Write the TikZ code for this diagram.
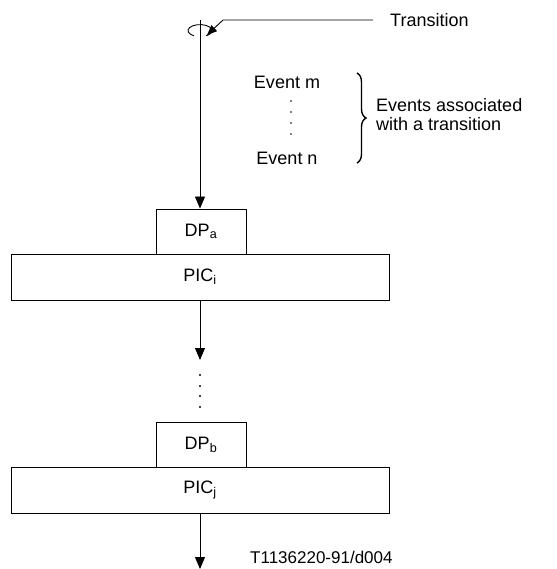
\documentclass[tikz,border=0pt]{standalone}
\usepackage{fontspec}
\setmainfont{Liberation Sans}
\usetikzlibrary{arrows.meta,decorations.pathreplacing}
\begin{document}
\begin{tikzpicture}[x=1pt,y=-1pt,
  every node/.style={font=\fontsize{18}{21}\selectfont},
  line/.style={line width=0.9pt},
  flow/.style={line, -{Triangle[length=12pt,width=10pt]}},
  dpbox/.style={draw, line width=0.9pt, minimum width=90pt, minimum height=45pt, inner sep=0pt},
  picbox/.style={draw, line width=0.9pt, minimum width=378pt, minimum height=46pt, inner sep=0pt},
  dotmark/.style={circle, fill, inner sep=0pt, minimum size=2.2pt},
  lbl/.style={inner sep=0pt}]
\useasboundingbox (0,0) rectangle (556,569);

% main flow
\coordinate (top) at (200,20);
\node[dpbox]  (dpa)  at (201,231.5) {DP\textsubscript{a}};
\node[picbox] (pici) at (200,277)   {PIC\textsubscript{i}};
\coordinate (mid) at (200,360);
\node[dotmark] (d1) at (200,375) {};
\node[dotmark] (d2) at (200,386) {};
\node[dotmark] (d3) at (200,396) {};
\node[dotmark] (d4) at (200,407) {};
\node[dpbox]  (dpb)  at (201,444.5) {DP\textsubscript{b}};
\node[picbox] (picj) at (200,490)   {PIC\textsubscript{j}};
\coordinate (bot) at (200,569);

\draw[flow] (top) -- (dpa.north -| top);
\draw[flow] (pici.south) -- (mid);
\draw[flow] (picj.south) -- (bot);

% transition loop around the line
\draw[line] (200,41) ++(120:12pt and 6pt) arc[start angle=120, end angle=420, x radius=12pt, y radius=-6pt];

% transition label and its leader
\node[lbl, anchor=west] (trans) at (390,20) {Transition};
\coordinate (lk) at (223,20);
\coordinate (ltip) at (207,35);
\draw[line, -{Triangle[length=10pt,width=8pt]}] (373,20) -- (lk) -- (ltip);

% events
\node[lbl] (evm) at (287,82) {Event m};
\node[dotmark, minimum size=1.8pt] (e1) at (291,101) {};
\node[dotmark, minimum size=1.8pt] (e2) at (291,112) {};
\node[dotmark, minimum size=1.8pt] (e3) at (291,123) {};
\node[dotmark, minimum size=1.8pt] (e4) at (291,134) {};
\node[lbl] (evn) at (287,158) {Event n};
\draw[line width=1.4pt, decorate, decoration={brace, amplitude=9pt}] (357,73) -- (357,163);
\node[lbl, anchor=west, align=left, font=\fontsize{18}{19}\selectfont] (evlbl) at (376,115) {Events associated\\with a transition};

% figure reference
\node[lbl, anchor=west, font=\fontsize{17}{20}\selectfont] (ref) at (250,557) {T1136220-91/d004};
\end{tikzpicture}
\end{document}
